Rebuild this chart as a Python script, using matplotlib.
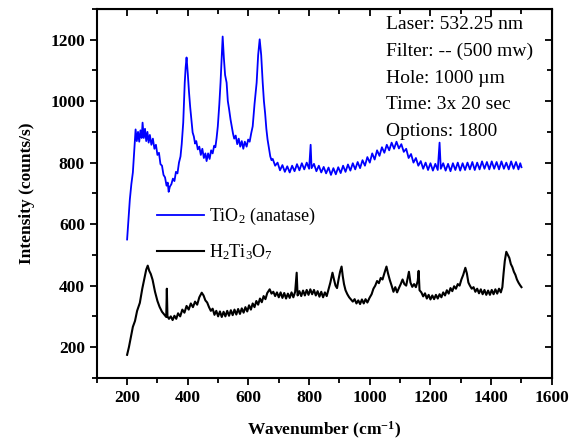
import matplotlib
matplotlib.use('Agg')
from matplotlib import pyplot as plt
from matplotlib.ticker import MultipleLocator

plt.rcParams['font.family'] = ['Liberation Serif', 'DejaVu Serif']
plt.rcParams['mathtext.fontset'] = 'custom'
plt.rcParams['mathtext.rm'] = 'Liberation Serif'
plt.rcParams['mathtext.it'] = 'Liberation Serif:italic'
plt.rcParams['mathtext.bf'] = 'Liberation Serif:bold'

# TiO2 (anatase) spectrum (wavenumber, counts/s)
tio2 = [(200, 550), (204, 610), (209, 680), (214, 730), (219, 768), (223, 830), (228, 908),
        (232, 870), (236, 900), (240, 868), (244, 905), (248, 880), (251, 930), (255, 880),
        (259, 910), (263, 870), (267, 900), (271, 865), (275, 890), (280, 858), (285, 878),
        (290, 845), (295, 858), (300, 825), (305, 832), (310, 795), (315, 790), (320, 760),
        (325, 752), (330, 725), (334, 735), (337, 705), (341, 722), (346, 730), (351, 748),
        (356, 740), (361, 770), (366, 765), (371, 800), (376, 820), (380, 860), (385, 930),
        (390, 1060), (393, 1110), (396, 1142), (400, 1090), (404, 1030), (408, 980), (412, 940),
        (416, 898), (420, 885), (424, 862), (428, 870), (433, 843), (438, 852), (443, 825),
        (448, 845), (453, 815), (458, 830), (462, 805), (467, 830), (472, 812), (477, 840),
        (482, 830), (487, 855), (491, 850), (495, 880), (499, 918), (504, 990), (508, 1060),
        (512, 1150), (515, 1210), (519, 1140), (523, 1085), (528, 1060), (532, 1000), (536, 975),
        (541, 940), (545, 918), (549, 895), (553, 878), (558, 888), (563, 860), (568, 878),
        (573, 852), (578, 870), (583, 845), (588, 868), (594, 852), (599, 875), (604, 868),
        (609, 895), (614, 918), (620, 990), (627, 1060), (632, 1150), (637, 1201), (642, 1150),
        (647, 1060), (651, 1000), (655, 960), (659, 910), (663, 875), (667, 850), (672, 820),
        (676, 808), (680, 812), (688, 790), (696, 800), (704, 775), (712, 792), (720, 770),
        (728, 788), (736, 768), (744, 790), (752, 772), (760, 795), (768, 775), (776, 798),
        (784, 778), (792, 800), (800, 780), (805, 858), (808, 782), (816, 796), (824, 772),
        (832, 790), (840, 768), (848, 786), (856, 765), (864, 784), (872, 760), (880, 782),
        (888, 762), (896, 785), (904, 766), (912, 790), (920, 770), (928, 794), (936, 774),
        (944, 798), (952, 778), (960, 802), (968, 782), (976, 808), (984, 790), (992, 818),
        (1000, 800), (1008, 830), (1016, 810), (1024, 840), (1032, 822), (1040, 850),
        (1048, 832), (1056, 858), (1064, 840), (1072, 865), (1080, 845), (1088, 868),
        (1096, 846), (1104, 860), (1112, 835), (1120, 845), (1128, 815), (1136, 828),
        (1144, 800), (1152, 815), (1160, 790), (1168, 805), (1176, 780), (1184, 800),
        (1192, 776), (1200, 798), (1208, 774), (1216, 796), (1224, 776), (1230, 865),
        (1234, 780), (1242, 798), (1250, 774), (1258, 796), (1266, 772), (1274, 798),
        (1282, 776), (1290, 800), (1298, 774), (1306, 798), (1314, 776), (1322, 800),
        (1330, 778), (1338, 802), (1346, 776), (1354, 800), (1362, 778), (1370, 804),
        (1378, 780), (1386, 802), (1394, 778), (1402, 804), (1410, 780), (1418, 802),
        (1426, 778), (1434, 804), (1442, 780), (1450, 800), (1458, 778), (1466, 804),
        (1474, 780), (1482, 802), (1490, 778), (1496, 798), (1500, 785)]

# H2Ti3O7 spectrum
h2ti3o7 = [(200, 175), (206, 200), (212, 230), (219, 266), (226, 285), (233, 318), (242, 344),
           (250, 390), (258, 429), (263, 452), (268, 465), (273, 448), (278, 438), (284, 419),
           (292, 380), (300, 350), (307, 331), (315, 315), (323, 305), (329, 298), (331, 390),
           (333, 300), (338, 292), (344, 300), (350, 288), (356, 302), (362, 292), (368, 310),
           (375, 300), (382, 322), (389, 312), (396, 334), (403, 322), (410, 342), (417, 330),
           (424, 348), (431, 338), (438, 362), (446, 377), (452, 368), (458, 352), (464, 345),
           (470, 330), (476, 318), (482, 325), (488, 305), (494, 318), (500, 300), (506, 316),
           (512, 298), (518, 315), (524, 300), (530, 318), (536, 302), (542, 320), (548, 304),
           (554, 322), (560, 306), (566, 324), (572, 308), (578, 326), (584, 312), (590, 330),
           (596, 316), (602, 336), (608, 322), (614, 342), (620, 330), (626, 350), (632, 338),
           (638, 358), (644, 346), (650, 366), (656, 356), (662, 376), (670, 388), (676, 374),
           (682, 380), (688, 366), (694, 378), (700, 362), (706, 378), (712, 360), (718, 376),
           (724, 358), (730, 374), (736, 360), (742, 378), (748, 362), (754, 380), (759, 442),
           (762, 368), (768, 382), (774, 366), (780, 384), (786, 368), (792, 386), (798, 370),
           (804, 388), (810, 372), (816, 386), (822, 368), (828, 382), (834, 364), (840, 380),
           (846, 362), (852, 378), (858, 366), (864, 388), (870, 410), (877, 442), (882, 420),
           (887, 400), (892, 392), (897, 420), (902, 445), (907, 462), (911, 430), (915, 405),
           (920, 385), (926, 372), (932, 362), (938, 355), (944, 348), (950, 356), (956, 342),
           (962, 352), (968, 340), (974, 355), (980, 342), (986, 356), (992, 345), (999, 360),
           (1006, 372), (1012, 390), (1018, 400), (1024, 415), (1030, 408), (1036, 425),
           (1042, 420), (1048, 440), (1055, 462), (1060, 440), (1066, 418), (1072, 400),
           (1078, 380), (1084, 395), (1090, 378), (1096, 392), (1102, 405), (1108, 420),
           (1114, 405), (1120, 400), (1126, 430), (1129, 445), (1134, 410), (1140, 396),
           (1146, 405), (1152, 395), (1158, 415), (1161, 448), (1164, 385), (1170, 378),
           (1176, 365), (1182, 375), (1188, 358), (1194, 370), (1200, 355), (1206, 368),
           (1212, 356), (1218, 370), (1224, 358), (1230, 372), (1236, 362), (1242, 378),
           (1248, 368), (1254, 385), (1260, 374), (1266, 392), (1272, 382), (1278, 398),
           (1284, 390), (1290, 405), (1296, 400), (1302, 420), (1308, 435), (1315, 458),
           (1320, 440), (1325, 410), (1330, 400), (1336, 390), (1342, 395), (1348, 380),
           (1354, 390), (1360, 375), (1366, 388), (1372, 372), (1378, 386), (1384, 370),
           (1390, 384), (1396, 370), (1402, 386), (1408, 372), (1414, 388), (1420, 374),
           (1426, 390), (1432, 378), (1437, 395), (1441, 440), (1445, 480), (1450, 510),
           (1455, 500), (1460, 490), (1465, 470), (1470, 460), (1475, 445), (1480, 435),
           (1485, 420), (1490, 410), (1495, 402), (1500, 395)]

info_lines = ['Laser: 532.25 nm', 'Filter: -- (500 mw)', 'Hole: 1000 \u00b5m',
              'Time: 3x 20 sec', 'Options: 1800']

tio2_x = [p[0] for p in tio2]
tio2_y = [p[1] for p in tio2]
h_x = [p[0] for p in h2ti3o7]
h_y = [p[1] for p in h2ti3o7]

fig = plt.figure(figsize=(5.76, 4.43), dpi=100)
ax = fig.add_axes([0.168, 0.147, 0.79, 0.833])

ax.plot(tio2_x, tio2_y, color='#0000ff', lw=1.3, label='TiO$_2$ (anatase)')
ax.plot(h_x, h_y, color='black', lw=1.5, label='H$_2$Ti$_3$O$_7$')

ax.set_xlim(100, 1600)
ax.set_ylim(100, 1300)
ax.xaxis.set_major_locator(MultipleLocator(200))
ax.xaxis.set_minor_locator(MultipleLocator(100))
ax.yaxis.set_minor_locator(MultipleLocator(100))
ax.set_yticks([200, 400, 600, 800, 1000, 1200])

for s in ax.spines.values():
    s.set_linewidth(1.5)
ax.tick_params(which='both', direction='out', width=1.3, top=False, right=False)
ax.tick_params(which='major', length=5)
ax.tick_params(which='minor', length=3.5)
for lab in ax.get_xticklabels() + ax.get_yticklabels():
    lab.set_fontweight('bold')
    lab.set_fontsize(12.5)

# inward ticks on top and right
ax_t = ax.secondary_xaxis('top')
ax_t.xaxis.set_major_locator(MultipleLocator(200))
ax_t.xaxis.set_minor_locator(MultipleLocator(100))
ax_t.tick_params(which='both', direction='in', width=1.3, labeltop=False)
ax_t.tick_params(which='major', length=5)
ax_t.tick_params(which='minor', length=3.5)
ax_r = ax.secondary_yaxis('right')
ax_r.yaxis.set_major_locator(MultipleLocator(200))
ax_r.yaxis.set_minor_locator(MultipleLocator(100))
ax_r.tick_params(which='both', direction='in', width=1.3, labelright=False)
ax_r.tick_params(which='major', length=5)
ax_r.tick_params(which='minor', length=3.5)

ax.set_xlabel('Wavenumber (cm$^{\\mathbf{-1}}$)', fontsize=12.5, fontweight='bold', labelpad=10)
ax.set_ylabel('Intensity (counts/s)', fontsize=12.5, fontweight='bold', labelpad=11)

ax.legend(loc='upper left', bbox_to_anchor=(0.096, 0.51), frameon=False, fontsize=13,
          handlelength=2.6, handletextpad=0.3, labelspacing=0.85)

for i, line in enumerate(info_lines):
    ax.text(0.635, 0.957 - i * 0.0725, line, transform=ax.transAxes, fontsize=14,
            va='center', ha='left')

fig.savefig('out.png', dpi=100)
